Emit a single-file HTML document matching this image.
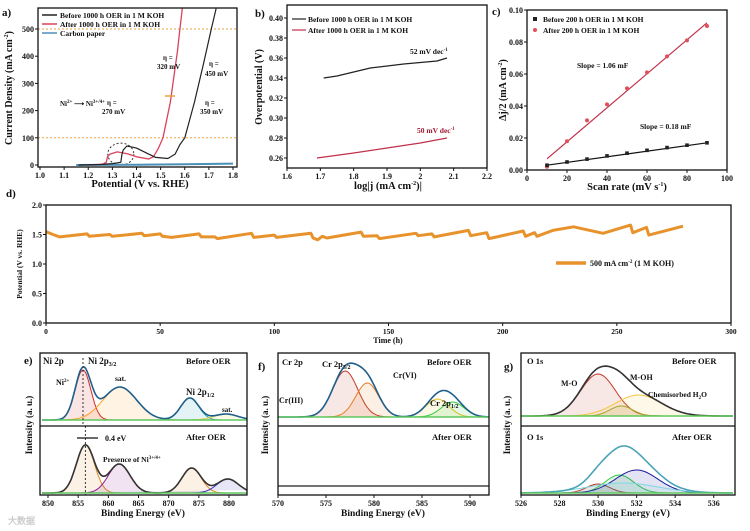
<!DOCTYPE html>
<html><head><meta charset="utf-8"><style>
html,body{margin:0;padding:0;background:#fff;width:750px;height:531px;overflow:hidden}
svg{display:block;font-family:"Liberation Serif",serif;font-weight:bold}
</style></head><body>
<svg id="fig" width="750" height="531" viewBox="0 0 750 531" xmlns="http://www.w3.org/2000/svg"></svg>
<script>
// ---- data ----
const lsvBeforeV=[1.16,1.25,1.30,1.335,1.34,1.345,1.36,1.40,1.45,1.48,1.53,1.56,1.58,1.60,1.64,1.68,1.71,1.73];
const lsvBeforeJ=[0,2,5,10,40,55,70,62,40,28,24,40,75,100,230,380,500,575];
const lsvAfterV=[1.20,1.26,1.275,1.28,1.29,1.32,1.36,1.40,1.45,1.47,1.49,1.51,1.54,1.57,1.58,1.59];
const lsvAfterJ=[0,3,10,30,40,48,42,30,22,30,60,100,230,420,500,575];
const carbonV=[1.15,1.4,1.6,1.8];
const carbonJ=[0,1,3,5];
const aXTicks=[1.0,1.1,1.2,1.3,1.4,1.5,1.6,1.7,1.8];
const aYTicks=[0,100,200,300,400,500];
const tafBeforeX=[1.71,1.75,1.85,1.95,2.05,2.08];
const tafBeforeY=[0.340,0.342,0.350,0.354,0.357,0.360];
const tafAfterX=[1.69,1.8,1.9,2.0,2.08];
const tafAfterY=[0.260,0.265,0.270,0.275,0.280];
const bXTicks=[1.6,1.7,1.8,1.9,2,2.1,2.2];
const bYTicks=[0.26,0.28,0.30,0.32,0.34,0.36,0.38,0.40];
const scanRates=[10,20,30,40,50,60,70,80,90];
const cdlAfter=[0.002,0.018,0.031,0.041,0.051,0.061,0.071,0.081,0.090];
const cdlBefore=[0.003,0.005,0.0068,0.0088,0.0105,0.0123,0.0140,0.0155,0.0170];
const fitAfter=[0.007,0.092];
const fitBefore=[0.003,0.017];
const cXTicks=[0,20,40,60,80,100];
const cYTicks=[0,0.02,0.04,0.06,0.08,0.10];
const stabT=[0,3,6,18,19,28,29,42,43,50,51,55,67,68,74,75,90,91,100,101,116,117,119,121,123,138,139,145,146,162,163,169,170,185,186,193,194,209,210,214,215,222,231,244,256,257,263,264,279];
const stabV=[1.55,1.50,1.46,1.51,1.47,1.50,1.47,1.52,1.48,1.51,1.47,1.45,1.51,1.46,1.46,1.43,1.52,1.45,1.49,1.45,1.52,1.44,1.41,1.47,1.44,1.54,1.47,1.48,1.43,1.52,1.48,1.51,1.46,1.57,1.48,1.53,1.43,1.56,1.47,1.53,1.47,1.57,1.63,1.52,1.66,1.53,1.62,1.49,1.64];
const dXTicks=[0,50,100,150,200,250,300];
const dYTicks=[0,0.5,1.0,1.5,2.0];
// XPS peaks: [center, height(px), sigma]
const niBefore=[[855.8,50,1.3,'#d62728'],[861.9,33,2.8,'#ff9f1a'],[873.5,22,1.5,'#1f9fb0'],[879.5,6,2.0,'#e0d030']];
const niAfter=[[856.2,48,1.5,'#e08a1e'],[861.8,29,1.8,'#8b1a8b'],[873.8,25,1.6,'#e08a1e'],[879.8,14,1.8,'#3030c0']];
const crBefore=[[577.0,46,1.3,'#c0392b'],[579.3,34,1.2,'#e67e22'],[586.6,18,1.2,'#e6c229'],[588.2,15,1.2,'#2ecc40']];
const oBefore=[[530.0,42,0.9,'#c0392b'],[531.2,10,0.6,'#a0a020'],[532.1,21,1.2,'#f5c542']];
const oAfter=[[530.0,9,0.6,'#c0392b'],[531.1,18,0.75,'#2ecc40'],[532.0,23,1.1,'#1a1aa0'],[531.3,10,1.8,'#7fd8e0']];
const eXTicks=[850,855,860,865,870,875,880];
const fXTicks=[570,575,580,585,590];
const gXTicks=[526,528,530,532,534,536];

// ---- helpers ----
const NS='http://www.w3.org/2000/svg';
const svg=document.getElementById('fig');
function el(tag,attrs,parent){const e=document.createElementNS(NS,tag);for(const k in attrs)e.setAttribute(k,attrs[k]);(parent||svg).appendChild(e);return e;}
function mk(p0,p1,d0,d1){return v=>p0+(v-d0)*(p1-p0)/(d1-d0);}
function txt(x,y,s,size,name,opt){opt=opt||{};const t=el('text',{x:x,y:y,'font-size':size,fill:opt.fill||'#111','text-anchor':opt.anchor||'start'});if(opt.rot)t.setAttribute('transform','rotate(-90 '+x+' '+y+')');t.innerHTML=s;


return t;}
function frame(x0,y0,x1,y1,name){const r=el('rect',{x:x0,y:y0,width:x1-x0,height:y1-y0,fill:'none',stroke:'#111','stroke-width':1.3});

}
function xticks(X,ticks,yb,fmt,name,size){ticks.forEach(v=>{const x=X(v);el('line',{x1:x,x2:x,y1:yb,y2:yb+3,stroke:'#111'});
const t=txt(x,yb+11,fmt(v),size||8,name,{anchor:'middle'});});}
function yticks(Y,ticks,xl,fmt,name){ticks.forEach(v=>{const y=Y(v);el('line',{x1:xl,x2:xl-3,y1:y,y2:y,stroke:'#111'});txt(xl-4,y+3,fmt(v),8,name,{anchor:'end'});});}
function poly(xs,ys,X,Y,stroke,w,name){const p=el('polyline',{points:xs.map((v,i)=>X(v).toFixed(1)+','+Y(ys[i]).toFixed(1)).join(' '),fill:'none',stroke:stroke,'stroke-width':w,'stroke-linejoin':'round'});

return p;}
function gauss(x,p){return p[1]*Math.exp(-0.5*Math.pow((x-p[0])/p[2],2));}
function xps(X,peaks,x0,x1,base,env,name){const n=160;peaks.forEach((p,k)=>{let pts=[];for(let i=0;i<=n;i++){const x=x0+(x1-x0)*i/n;pts.push(X(x).toFixed(1)+','+(base-gauss(x,p)).toFixed(1));}
const q=el('polyline',{points:pts.join(' '),fill:p[3],'fill-opacity':0.12,stroke:p[3],'stroke-width':1});

});
let pts=[];for(let i=0;i<=n;i++){const x=x0+(x1-x0)*i/n;let s=0;peaks.forEach(p=>s+=gauss(x,p));pts.push(X(x).toFixed(1)+','+(base-s).toFixed(1));}
const e=el('polyline',{points:pts.join(' '),fill:'none',stroke:env,'stroke-width':1.6});


el('line',{x1:X(x0),x2:X(x1),y1:base,y2:base,stroke:'#5ec85e','stroke-width':1.5});}

// ---- panel a ----
(function(){const X=mk(40,233,1.0,1.8),Y=mk(165,29,0,500);
el('line',{x1:38,x2:237,y1:Y(100),y2:Y(100),stroke:'#e8a040','stroke-dasharray':'2,2','stroke-width':1});
el('line',{x1:38,x2:237,y1:Y(500),y2:Y(500),stroke:'#e8a040','stroke-dasharray':'2,2','stroke-width':1});
el('ellipse',{cx:X(1.335),cy:Y(40),rx:13,ry:11,fill:'none',stroke:'#333','stroke-dasharray':'2,2'});
poly(carbonV,carbonJ,X,Y,'#4a90b8',2,'carbon-paper-line');
poly(lsvAfterV,lsvAfterJ,X,Y,'#d9435a',1.3,'after-oer-line');
poly(lsvBeforeV,lsvBeforeJ,X,Y,'#222',1.2,'before-oer-line');
frame(38,8,237,167,'panel-a-frame');
xticks(X,aXTicks,167,v=>v.toFixed(1),'a-x-tick');
yticks(Y,aYTicks,38,v=>v,'a-y-tick');
txt(140,187,'Potential (V vs. RHE)','10.5','a-x-title',{anchor:'middle'});
txt(12,88,'Current Density (mA cm<tspan font-size="6" dy="-4">-2</tspan><tspan dy="4">)</tspan>',10,'a-y-title',{anchor:'middle',rot:1});
txt(2,16,'a)',11,'panel-a-label');
[['#222','Before 1000 h OER in 1 M KOH'],['#d9435a','After 1000 h OER in 1 M KOH'],['#4a90b8','Carbon paper']].forEach((l,i)=>{const y=15+i*9;el('line',{x1:42,x2:57,y1:y,y2:y,stroke:l[0],'stroke-width':1.5});txt(60,y+3,l[1],7.5,'a-legend-entry');});
txt(163,60,'η =',7,'eta-320');txt(157,69,'320 mV',7,'eta-320-val');
txt(209,66,'η =',7,'eta-450');txt(205,76,'450 mV',7,'eta-450-val');
txt(107,105,'η =',7,'eta-270');txt(102,114,'270 mV',7,'eta-270-val');
txt(205,105,'η =',7,'eta-350');txt(200,114,'350 mV',7,'eta-350-val');
txt(60,106,'Ni<tspan font-size="5" dy="-3">2+</tspan><tspan dy="3"> ⟶ Ni</tspan><tspan font-size="5" dy="-3">3+/4+</tspan>',7,'ni-annotation');
el('line',{x1:175,x2:165,y1:96,y2:96,stroke:'#e8a040','stroke-width':1.5});
})();

// ---- panel b ----
(function(){const X=mk(287,487,1.6,2.2),Y=mk(158,18,0.26,0.40);
poly(tafBeforeX,tafBeforeY,X,Y,'#222',1.2,'tafel-before');
poly(tafAfterX,tafAfterY,X,Y,'#c0304a',1.2,'tafel-after');
frame(287,5,487,168,'panel-b-frame');
xticks(X,bXTicks,168,v=>String(v),'b-x-tick');
yticks(Y,bYTicks,287,v=>v.toFixed(2),'b-y-tick');
txt(388,189,'log|j (mA cm<tspan font-size="6" dy="-4">-2</tspan><tspan dy="4">)|</tspan>',10.5,'b-x-title',{anchor:'middle'});
txt(262,87,'Overpotential (V)',10,'b-y-title',{anchor:'middle',rot:1});
txt(255,17,'b)',11,'panel-b-label');
[['#222','Before 1000 h OER in 1 M KOH'],['#c0304a','After 1000 h OER in 1 M KOH']].forEach((l,i)=>{const y=19+i*11;el('line',{x1:292,x2:306,y1:y,y2:y,stroke:l[0],'stroke-width':1.2});txt(308,y+3,l[1],7.5,'b-legend-entry');});
txt(410,54,'52 mV dec<tspan font-size="5" dy="-3">-1</tspan>',7.5,'tafel-before-label');
txt(417,133,'50 mV dec<tspan font-size="5" dy="-3">-1</tspan>',7.5,'tafel-after-label',{fill:'#a01830'});
})();

// ---- panel c ----
(function(){const X=mk(527,727,0,100),Y=mk(170,10,0,0.1);
poly([10,90],fitAfter,X,Y,'#c0304a',1.2,'cdl-after-fit');
poly([10,90],fitBefore,X,Y,'#111',1.2,'cdl-before-fit');
scanRates.forEach((s,i)=>{const c=el('circle',{cx:X(s),cy:Y(cdlAfter[i]),r:2,fill:'#e0505a'});


const r=el('rect',{x:X(s)-1.8,y:Y(cdlBefore[i])-1.8,width:3.6,height:3.6,fill:'#222'});

});
frame(527,10,727,170,'panel-c-frame');
xticks(X,cXTicks,170,v=>v,'c-x-tick');
yticks(Y,cYTicks,527,v=>v.toFixed(2),'c-y-tick');
txt(627,190,'Scan rate (mV s<tspan font-size="6" dy="-4">-1</tspan><tspan dy="4">)</tspan>',10.5,'c-x-title',{anchor:'middle'});
txt(506,90,'Δj/2 (mA cm<tspan font-size="6" dy="-4">-2</tspan><tspan dy="4">)</tspan>',10,'c-y-title',{anchor:'middle',rot:1});
txt(492,15,'c)',11,'panel-c-label');
el('rect',{x:533,y:17,width:4,height:4,fill:'#222'});txt(543,22,'Before 200 h OER in 1 M KOH',7.5,'c-legend-before');
el('circle',{cx:535,cy:30,r:2,fill:'#e0505a'});txt(543,33,'After 200 h OER in 1 M KOH',7.5,'c-legend-after');
txt(577,68,'Slope = 1.06 mF',7.5,'slope-after');
txt(640,129,'Slope = 0.18 mF',7.5,'slope-before');
})();

// ---- panel d ----
(function(){const X=mk(46,731,0,300),Y=mk(323,205,0,2);
poly(stabT,stabV,X,Y,'#e8922c',3,'stability-line');
frame(46,205,731,323,'panel-d-frame');
xticks(X,dXTicks,323,v=>v,'d-x-tick',7.5);
yticks(Y,dYTicks,46,v=>v.toFixed(1),'d-y-tick');
txt(388,343,'Time (h)',8,'d-x-title',{anchor:'middle'});
txt(22,264,'Potential (V vs. RHE)',7.5,'d-y-title',{anchor:'middle',rot:1});
txt(6,197,'d)',11,'panel-d-label');
el('line',{x1:556,x2:586,y1:263,y2:263,stroke:'#e8922c','stroke-width':3.5});
txt(590,266,'500 mA cm<tspan font-size="5" dy="-3">-2</tspan><tspan dy="3"> (1 M KOH)</tspan>',8,'d-legend-entry');
})();

// ---- panel e ----
(function(){const X=mk(48,229,850,880);
xps(X,niBefore,849,883,420,'#1f5f8b','ni-before');
xps(X,niAfter,849,883,493,'#333','ni-after');
el('line',{x1:X(855.8),x2:X(855.8),y1:358,y2:426,stroke:'#333','stroke-dasharray':'2,2'});
el('line',{x1:X(856.2),x2:X(856.2),y1:426,y2:495,stroke:'#333','stroke-dasharray':'2,2'});
el('line',{x1:40,x2:247,y1:426,y2:426,stroke:'#111','stroke-width':1.3});
frame(40,353,247,495,'panel-e-frame');
xticks(X,eXTicks,495,v=>v,'e-x-tick');
txt(143,516,'Binding Energy (eV)',9.5,'e-x-title',{anchor:'middle'});
txt(32,425,'Intensity (a. u.)',9,'e-y-title',{anchor:'middle',rot:1});
txt(24,364,'e)',11,'panel-e-label');
txt(43,364,'Ni 2p',9,'ni2p-label');
txt(88,364,'Ni 2p<tspan font-size="6" dy="2">3/2</tspan>',9,'ni2p32-label');
txt(186,364,'Before OER',8.5,'e-before-label');
txt(56,385,'Ni<tspan font-size="5" dy="-3">2+</tspan>',8,'ni2plus-label');
txt(115,381,'sat.',7.5,'sat-label');
txt(186,395,'Ni 2p<tspan font-size="6" dy="2">1/2</tspan>',9,'ni2p12-label');
txt(222,412,'sat.',7,'sat2-label');
txt(186,440,'After OER',8.5,'e-after-label');
el('line',{x1:77,x2:98,y1:438,y2:438,stroke:'#111','stroke-width':1.2});
txt(105,441,'0.4 eV',8,'shift-label');
txt(103,462,'Presence of Ni<tspan font-size="5" dy="-3">3+/4+</tspan>',7.5,'ni34-label');
})();

// ---- panel f ----
(function(){const X=mk(278,470,570,590);
xps(X,crBefore,570,592,417,'#1f5f8b','cr-before');
el('line',{x1:278,x2:489,y1:486,y2:486,stroke:'#222','stroke-width':1.2});
el('line',{x1:278,x2:489,y1:426,y2:426,stroke:'#111','stroke-width':1.3});
frame(278,353,489,495,'panel-f-frame');
xticks(X,fXTicks,495,v=>v,'f-x-tick');
txt(383,516,'Binding Energy (eV)',9.5,'f-x-title',{anchor:'middle'});
txt(268,425,'Intensity (a. u.)',9,'f-y-title',{anchor:'middle',rot:1});
txt(258,370,'f)',11,'panel-f-label');
txt(282,365,'Cr 2p',8.5,'cr2p-label');
txt(322,367,'Cr 2p<tspan font-size="6" dy="2">3/2</tspan>',8.5,'cr2p32-label');
txt(393,378,'Cr(VI)',8,'crvi-label');
txt(279,403,'Cr(III)',8,'criii-label');
txt(427,365,'Before OER',8.5,'f-before-label');
txt(430,406,'Cr 2p<tspan font-size="6" dy="2">1/2</tspan>',8.5,'cr2p12-label');
txt(432,440,'After OER',8.5,'f-after-label');
})();

// ---- panel g ----
(function(){const X=mk(521,733,526,537);
xps(X,oBefore,526,537,416,'#333','o-before');
xps(X,oAfter,526,537,493,'#4aa3b8','o-after');
el('line',{x1:521,x2:735,y1:426,y2:426,stroke:'#111','stroke-width':1.3});
frame(521,353,735,495,'panel-g-frame');
xticks(X,gXTicks,495,v=>v,'g-x-tick');
txt(628,516,'Binding Energy (eV)',9.5,'g-x-title',{anchor:'middle'});
txt(510,425,'Intensity (a. u.)',9,'g-y-title',{anchor:'middle',rot:1});
txt(504,370,'g)',11,'panel-g-label');
txt(527,364,'O 1s',8.5,'o1s-before-label');
txt(672,364,'Before OER',8.5,'g-before-label');
txt(561,386,'M-O',8,'mo-label');
txt(630,380,'M-OH',8,'moh-label');
txt(648,397,'Chemisorbed H<tspan font-size="5" dy="2">2</tspan><tspan dy="-2">O</tspan>',7.5,'h2o-label');
txt(527,440,'O 1s',8.5,'o1s-after-label');
txt(672,440,'After OER',8.5,'g-after-label');
})();
txt(8,524,'大数据',9,'watermark',{fill:'#ccc'});
</script>
</body></html>
